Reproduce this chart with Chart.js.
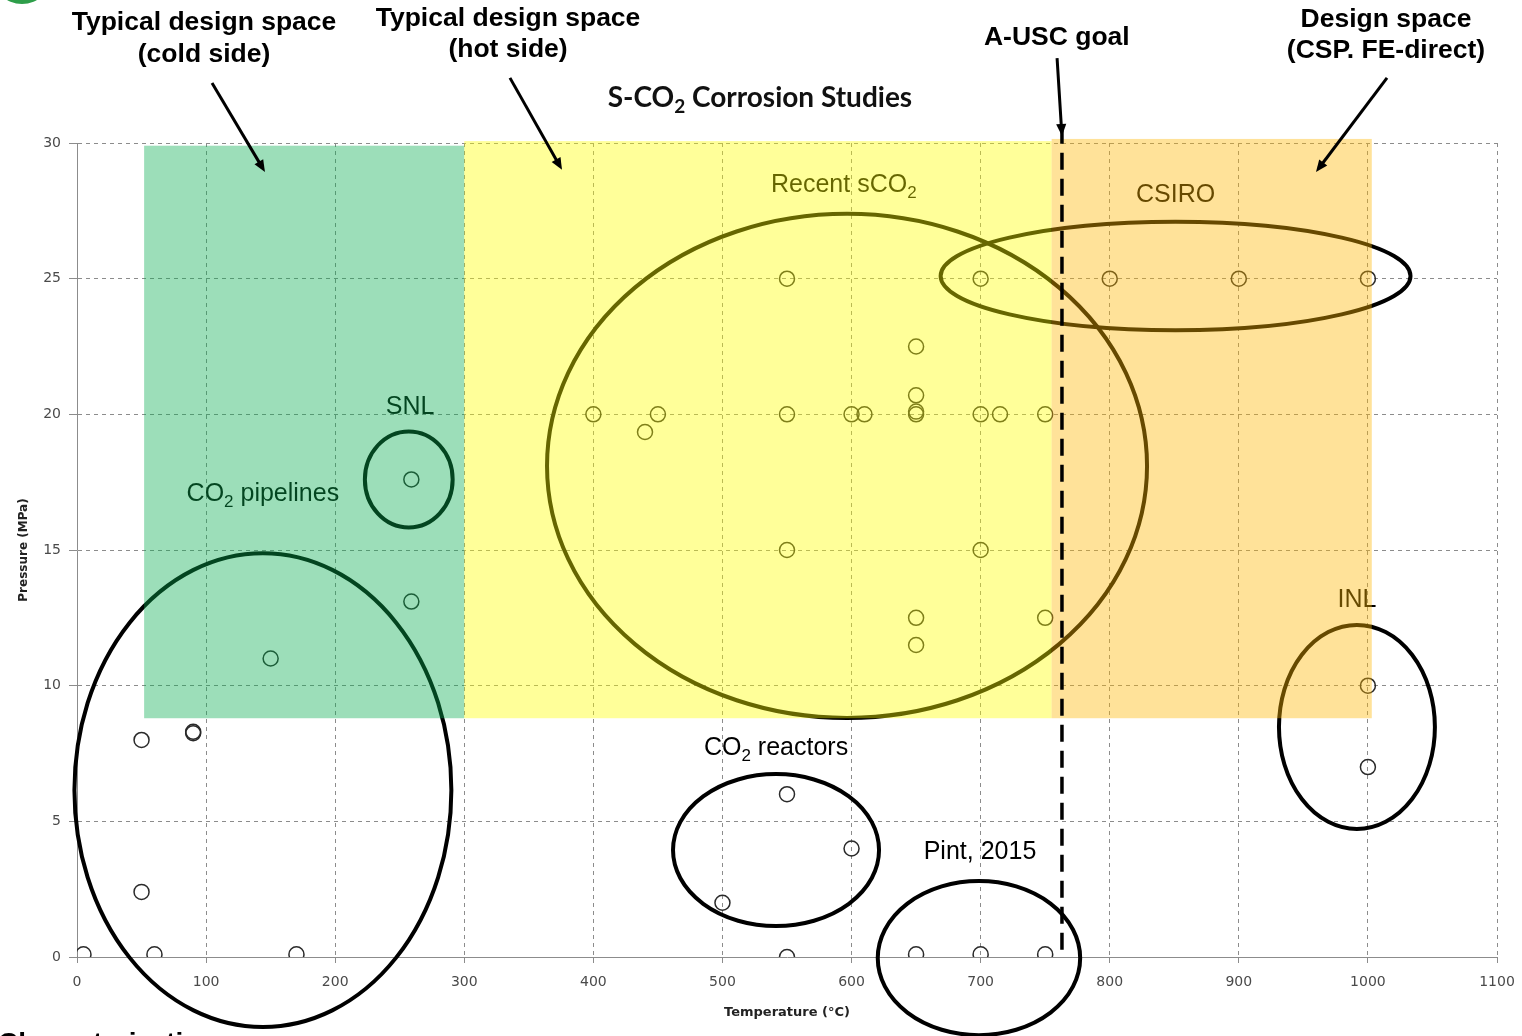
<!DOCTYPE html>
<html>
<head>
<meta charset="utf-8">
<script src="https://cdn.jsdelivr.net/npm/chart.js@4.4.1/dist/chart.umd.min.js"></script>
<style>
  body { margin: 0; background: #fff; }
  canvas { display: block; }
</style>
</head>
<body>
<canvas id="corrosionChart" width="1522" height="1036"></canvas>
<script>
// Test conditions: temperature (°C) and pressure (MPa)
var temperature = [5, 50, 50, 60, 90, 90, 150, 170, 259, 259,
                   400, 440, 450, 500, 550, 550, 550, 550, 550, 600,
                   600, 610, 650, 650, 650, 650, 650, 650, 650, 700,
                   700, 700, 700, 715, 750, 750, 750, 800, 900, 1000,
                   1000, 1000];
var pressure = [0.1, 8.0, 2.4, 0.1, 8.3, 8.25, 11.0, 0.1, 17.6, 13.1,
                20, 19.35, 20, 2.0, 25, 20, 15, 6.0, 0, 4.0,
                20, 20, 22.5, 20.7, 20, 20.1, 12.5, 11.5, 0.1, 25,
                20, 15, 0.1, 20, 20, 12.5, 0.1, 25, 25, 25,
                10, 7];

var xTicks = [0, 100, 200, 300, 400, 500, 600, 700, 800, 900, 1000, 1100];
var yTicks = [0, 5, 10, 15, 20, 25, 30];

// shaded design regions (data units), drawn see-through on top
var zones = [
  { x0: 52,  x1: 300,  y0: 8.8, y1: 29.9,  color: 'rgba(8,172,80,0.4)' },
  { x0: 300, x1: 755,  y0: 8.8, y1: 30.07, color: 'rgba(255,255,0,0.4)' },
  { x0: 755, x1: 1003, y0: 8.8, y1: 30.15, color: 'rgba(255,182,0,0.4)' }
];

// circled groups of studies
var rings = [
  { x: 144,   y: 6.15,  rx: 146,   ry: 8.73 },
  { x: 257,   y: 17.6,  rx: 34,    ry: 1.77 },
  { x: 596.5, y: 18.1,  rx: 232.4, ry: 9.29 },
  { x: 851,   y: 25.1,  rx: 182,   ry: 2.0 },
  { x: 991.5, y: 8.48,  rx: 60.4,  ry: 3.76 },
  { x: 541.5, y: 3.94,  rx: 79.8,  ry: 2.8 },
  { x: 698.7, y: -0.04, rx: 78.4,  ry: 2.84 }
];

// group labels, [text, subscript?]
var groupLabels = [
  { x: 594,   y: 28.45, parts: [['Recent sCO', 0], ['2', 1]] },
  { x: 851,   y: 28.08, parts: [['CSIRO', 0]] },
  { x: 258,   y: 20.27, parts: [['SNL', 0]] },
  { x: 144,   y: 17.06, parts: [['CO', 0], ['2', 1], [' pipelines', 0]] },
  { x: 991.5, y: 13.16, parts: [['INL', 0]] },
  { x: 541.5, y: 7.70,  parts: [['CO', 0], ['2', 1], [' reactors', 0]] },
  { x: 699.5, y: 3.87,  parts: [['Pint, 2015', 0]] }
];

// callouts above the plot
var callouts = [
  { x: 98.4,  lines: [['Typical design space', 34.42], ['(cold side)', 33.24]], from: [104.6, 32.21], to: [145.6, 28.93] },
  { x: 333.9, lines: [['Typical design space', 34.57], ['(hot side)', 33.43]],  from: [335.4, 32.40], to: [375.7, 29.01] },
  { x: 759,   lines: [['A-USC goal', 33.87]],                                   from: [759.2, 33.13], to: [763, 30.26] },
  { x: 1014,  lines: [['Design space', 34.53], ['(CSP. FE-direct)', 33.39]],     from: [1014.8, 32.40], to: [959.8, 28.93] }
];
var ausc = 763;

function drawRich(ctx, parts, cx, cy, size, weight, family) {
  var big = weight + ' ' + size + 'px ' + family;
  var small = weight + ' ' + Math.round(size * 0.68) + 'px ' + family;
  var w = 0;
  parts.forEach(function (p) { ctx.font = p[1] ? small : big; w += ctx.measureText(p[0]).width; });
  var x = cx - w / 2;
  ctx.textAlign = 'left';
  ctx.textBaseline = 'middle';
  parts.forEach(function (p) {
    ctx.font = p[1] ? small : big;
    ctx.fillText(p[0], x, cy + (p[1] ? size * 0.32 : 0));
    x += ctx.measureText(p[0]).width;
  });
}

function arrow(ctx, x1, y1, x2, y2) {
  var a = Math.atan2(y2 - y1, x2 - x1), h = 13;
  ctx.beginPath();
  ctx.moveTo(x1, y1);
  ctx.lineTo(x2 - Math.cos(a) * 6, y2 - Math.sin(a) * 6);
  ctx.stroke();
  ctx.beginPath();
  ctx.moveTo(x2, y2);
  ctx.lineTo(x2 - h * Math.cos(a - 0.4), y2 - h * Math.sin(a - 0.4));
  ctx.lineTo(x2 - h * Math.cos(a + 0.4), y2 - h * Math.sin(a + 0.4));
  ctx.closePath();
  ctx.fill();
}

var overlay = {
  id: 'overlay',
  afterDatasetsDraw: function (chart) {
    var ctx = chart.ctx, xs = chart.scales.x, ys = chart.scales.y;
    var px = function (v) { return xs.getPixelForValue(v); };
    var py = function (v) { return ys.getPixelForValue(v); };
    ctx.save();

    // rings
    ctx.strokeStyle = '#000';
    ctx.lineWidth = 4;
    rings.forEach(function (r) {
      ctx.beginPath();
      ctx.ellipse(px(r.x), py(r.y), px(r.x + r.rx) - px(r.x), py(r.y) - py(r.y + r.ry), 0, 0, Math.PI * 2);
      ctx.stroke();
    });

    // group labels
    ctx.fillStyle = '#000';
    groupLabels.forEach(function (g) {
      drawRich(ctx, g.parts, px(g.x), py(g.y), 25, 'normal', '"Liberation Sans", Arial, sans-serif');
    });

    // see-through zones
    zones.forEach(function (z) {
      ctx.fillStyle = z.color;
      ctx.fillRect(px(z.x0), py(z.y1), px(z.x1) - px(z.x0), py(z.y0) - py(z.y1));
    });

    // A-USC goal line
    ctx.strokeStyle = '#000';
    ctx.lineWidth = 3.5;
    ctx.setLineDash([17, 9]);
    ctx.beginPath();
    ctx.moveTo(px(ausc), py(30.6));
    ctx.lineTo(px(ausc), py(0));
    ctx.stroke();
    ctx.setLineDash([]);

    // chart title
    ctx.fillStyle = '#111';
    drawRich(ctx, [['S-CO', 0], ['2', 1], [' Corrosion Studies', 0]], px(529), py(31.66), 28, 'bold', 'Lato, "Open Sans", sans-serif');

    // callouts
    ctx.lineWidth = 3;
    ctx.strokeStyle = '#000';
    ctx.fillStyle = '#000';
    callouts.forEach(function (c) {
      c.lines.forEach(function (l) {
        drawRich(ctx, [[l[0], 0]], px(c.x), py(l[1]), 26.5, 'bold', '"Liberation Sans", Arial, sans-serif');
      });
      arrow(ctx, px(c.from[0]), py(c.from[1]), px(c.to[0]), py(c.to[1]));
    });

    // slide remnants at the edges
    ctx.textAlign = 'left';
    ctx.textBaseline = 'alphabetic';
    ctx.font = 'bold 28px "Liberation Sans", Arial, sans-serif';
    ctx.fillText('Characterization', -2, 1052);
    ctx.fillStyle = '#2e9e4a';
    ctx.beginPath();
    ctx.arc(22, -26, 30, 0, Math.PI * 2);
    ctx.fill();

    ctx.restore();
  }
};

var ctx = document.getElementById('corrosionChart').getContext('2d');

var chartData = {
  datasets: [{
    label: 'Corrosion studies',
    data: temperature.map(function (t, i) { return { x: t, y: pressure[i] }; }),
    pointRadius: 7.5,
    pointBorderWidth: 1.5,
    pointBorderColor: '#2a2a2a',
    pointBackgroundColor: 'rgba(255,255,255,0)',
    showLine: false
  }]
};

var tickFont = { family: '"DejaVu Sans", sans-serif', size: 14 };

var chartOptions = {
  responsive: false,
  animation: false,
  layout: { padding: { top: 143, right: 25, left: 0, bottom: 0 } },
  plugins: { legend: { display: false }, tooltip: { enabled: false } },
  scales: {
    x: {
      type: 'linear',
      min: 0,
      max: 1100,
      afterBuildTicks: function (s) { s.ticks = xTicks.map(function (v) { return { value: v }; }); },
      afterFit: function (s) { s.height = 79; s.paddingLeft = 0; s.paddingRight = 0; },
      ticks: { font: tickFont, color: '#4a4a4a', padding: 11, maxRotation: 0,
               callback: function (v) { return String(v); } },
      grid: { color: '#8c8c8c', tickLength: 6, tickColor: '#8c8c8c' },
      border: { color: '#8c8c8c', dash: [4, 4] },
      title: {
        display: true,
        text: 'Temperature (°C)',
        color: '#222',
        font: { family: '"DejaVu Sans", sans-serif', size: 13, weight: 'bold' },
        padding: { top: 0, bottom: 16 }
      }
    },
    y: {
      type: 'linear',
      min: 0,
      max: 30,
      afterBuildTicks: function (s) { s.ticks = yTicks.map(function (v) { return { value: v }; }); },
      afterFit: function (s) { s.width = 77; s.paddingTop = 0; s.paddingBottom = 0; },
      ticks: { font: tickFont, color: '#4a4a4a', padding: 8,
               callback: function (v) { return String(v); } },
      grid: { color: '#8c8c8c', tickLength: 8, tickColor: '#8c8c8c' },
      border: { color: '#8c8c8c', dash: [4, 4] },
      title: {
        display: true,
        text: 'Pressure (MPa)',
        color: '#222',
        font: { family: '"DejaVu Sans", sans-serif', size: 12, weight: 'bold' },
        padding: { top: 17, bottom: 0 }
      }
    }
  }
};

var corrosionChart = new Chart(ctx, {
  type: 'scatter',
  data: chartData,
  options: chartOptions,
  plugins: [overlay]
});
</script>
</body>
</html>
